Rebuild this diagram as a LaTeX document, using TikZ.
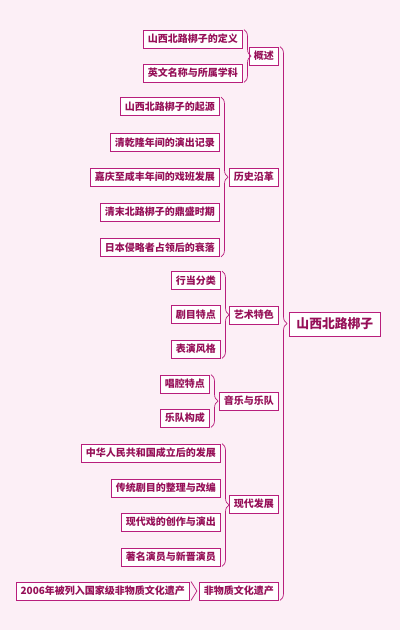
\documentclass[tikz,border=0pt]{standalone}
\usepackage{fontspec}
\setmainfont{Noto Sans CJK SC}
\usepackage{tikz}
\usetikzlibrary{
  decorations.pathreplacing,
  positioning
}
\definecolor{mapbg}{RGB}{252,239,246}
\definecolor{mapline}{RGB}{184,30,124}
\definecolor{maptext}{RGB}{150,16,88}
\tikzset{
  mapLeaf/.style={
    rectangle,
    draw=mapline,
    fill=white,
    line width=0.9pt,
    text=maptext,
    font=\bfseries\fontsize{10}{11}\selectfont,
    minimum height=18pt,
    inner xsep=4.6pt,
    inner ysep=0pt,
    anchor=east
  },
  mapTopic/.style={
    mapLeaf
  },
  mapRoot/.style={
    mapLeaf,
    font=\bfseries\fontsize{12.8}{13}\selectfont,
    minimum height=24pt,
    inner xsep=7pt,
    anchor=west
  },
  mapBrace/.style={
    draw=mapline,
    line width=0.7pt,
    decorate,
    decoration={brace, amplitude=7pt}
  }
}

\begin{document}
\begin{tikzpicture}[x=1pt, y=-1pt]
  \fill[mapbg] (0,0) rectangle (400,630);
  \useasboundingbox (0,0) rectangle (400,630);

  % root
  \node[mapRoot] (root) at (289,324) {山西北路梆子};

  % topics
  \node[mapTopic] (overview) at (279,56) {概述};
  \node[mapTopic] (history) at (279,177) {历史沿革};
  \node[mapTopic] (artistry) at (279,315) {艺术特色};
  \node[mapTopic] (music) at (279,401) {音乐与乐队};
  \node[mapTopic] (modern) at (279,504) {现代发展};
  \node[mapTopic] (heritage) at (279,591) {非物质文化遗产};

  % overview
  \node[mapLeaf] (defn) at (243,39) {山西北路梆子的定义};
  \node[mapLeaf] (ename) at (243,73) {英文名称与所属学科};

  % history
  \node[mapLeaf] (origin) at (220,106.5) {山西北路梆子的起源};
  \node[mapLeaf] (qianlong) at (220,142.5) {清乾隆年间的演出记录};
  \node[mapLeaf] (jiaqing) at (220,177) {嘉庆至咸丰年间的戏班发展};
  \node[mapLeaf] (peak) at (220,212) {清末北路梆子的鼎盛时期};
  \node[mapLeaf] (decline) at (220,247.5) {日本侵略者占领后的衰落};

  % artistry
  \node[mapLeaf] (roles) at (221,280.5) {行当分类};
  \node[mapLeaf] (repertoire) at (221,314.5) {剧目特点};
  \node[mapLeaf] (acting) at (221,349) {表演风格};

  % music
  \node[mapLeaf] (singing) at (210,384) {唱腔特点};
  \node[mapLeaf] (band) at (210,418) {乐队构成};

  % modern
  \node[mapLeaf] (prc) at (221,453) {中华人民共和国成立后的发展};
  \node[mapLeaf] (adapt) at (221,488) {传统剧目的整理与改编};
  \node[mapLeaf] (newplay) at (221,522) {现代戏的创作与演出};
  \node[mapLeaf] (actors) at (221,557) {著名演员与新晋演员};

  % heritage
  \node[mapLeaf] (listed) at (190,591) {2006年被列入国家级非物质文化遗产};

  % braces
  \draw[mapBrace] ([xshift=1pt]overview.north east) -- ([xshift=1pt]heritage.south east);
  \draw[mapBrace] ([xshift=1pt]defn.north east) -- ([xshift=1pt]ename.south east);
  \draw[mapBrace] ([xshift=1pt]origin.north east) -- ([xshift=1pt]decline.south east);
  \draw[mapBrace] ([xshift=1pt]roles.north east) -- ([xshift=1pt]acting.south east);
  \draw[mapBrace] ([xshift=1pt]singing.north east) -- ([xshift=1pt]band.south east);
  \draw[mapBrace] ([xshift=1pt]prc.north east) -- ([xshift=1pt]actors.south east);

  \coordinate (heritageTip) at ([xshift=-2pt]heritage.west);
  \draw[draw=mapline, line width=0.7pt]
    ([xshift=1pt]listed.north east) -- (heritageTip) -- ([xshift=1pt]listed.south east);
\end{tikzpicture}
\end{document}
